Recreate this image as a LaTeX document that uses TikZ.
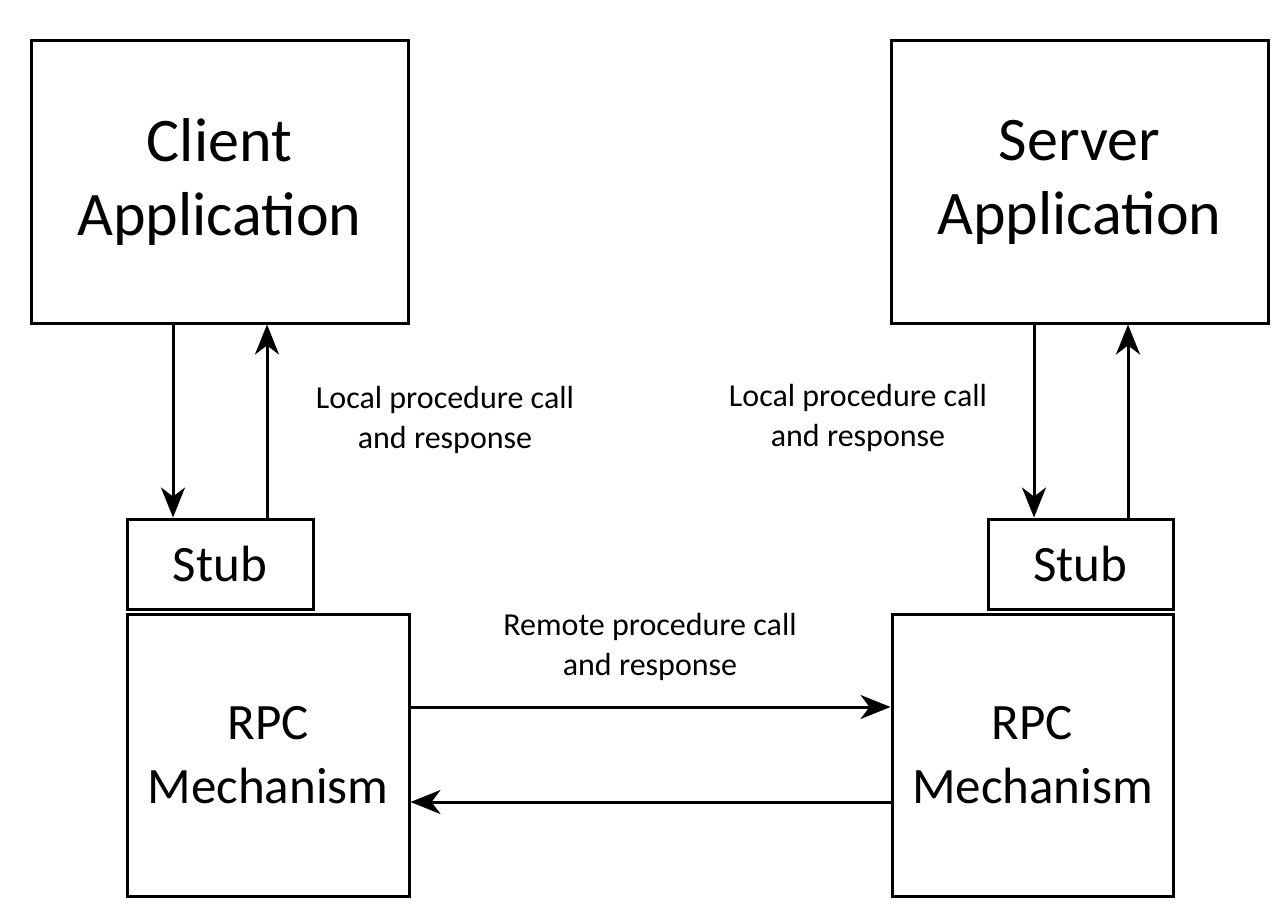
\documentclass[tikz,border=0pt]{standalone}
\usepackage{fontspec}
\setmainfont{Carlito}
\usetikzlibrary{arrows.meta}
\begin{document}
\begin{tikzpicture}[x=1pt,y=-1pt,
  box/.style={draw=black, line width=3pt, fill=white, align=center, inner sep=0pt},
  big/.style={font=\fontsize{62}{74}\selectfont},
  mid/.style={font=\fontsize{51}{64}\selectfont},
  lbl/.style={font=\fontsize{32}{40}\selectfont, align=center, inner sep=0pt},
  arr/.style={line width=3pt, -{Stealth[length=30pt, width=24pt, inset=9pt]}}]
\useasboundingbox (0,0) rectangle (1286,920);
\fill[white] (0,0) rectangle (1286,920);
% boxes
\node[box, big, minimum width=377pt, minimum height=282pt] (client) at (219.5,182) {Client\\Application};
\node[box, big, minimum width=377pt, minimum height=282pt] (server) at (1079.5,182) {Server\\Application};
\node[box, mid, minimum width=282pt, minimum height=282pt] (rpcL) at (268,755) {RPC\\Mechanism};
\node[box, mid, minimum width=281pt, minimum height=282pt] (rpcR) at (1032.5,755) {RPC\\Mechanism};
\node[box, mid, minimum width=186pt, minimum height=90pt] (stubL) at (220,564) {Stub};
\node[box, mid, minimum width=185pt, minimum height=90pt] (stubR) at (1080.5,564) {Stub};
% x positions of vertical arrows
\coordinate (xa) at (173,0);
\coordinate (xb) at (267,0);
\coordinate (xc) at (1034,0);
\coordinate (xd) at (1128,0);
\coordinate (ya) at (0,707);
\coordinate (yb) at (0,802);
% arrows
\draw[arr] (client.south -| xa) -- (stubL.north -| xa);
\draw[arr] (stubL.north -| xb) -- (client.south -| xb);
\draw[arr] (server.south -| xc) -- (stubR.north -| xc);
\draw[arr] (stubR.north -| xd) -- (server.south -| xd);
\draw[arr] (rpcL.east |- ya) -- (rpcR.west |- ya);
\draw[arr] (rpcR.west |- yb) -- (rpcL.east |- yb);
% labels
\node[lbl] (l1) at (445,420) {Local procedure call\\and response};
\node[lbl] (l2) at (858,418) {Local procedure call\\and response};
\node[lbl] (l3) at (650,647) {Remote procedure call\\and response};
\end{tikzpicture}
\end{document}
